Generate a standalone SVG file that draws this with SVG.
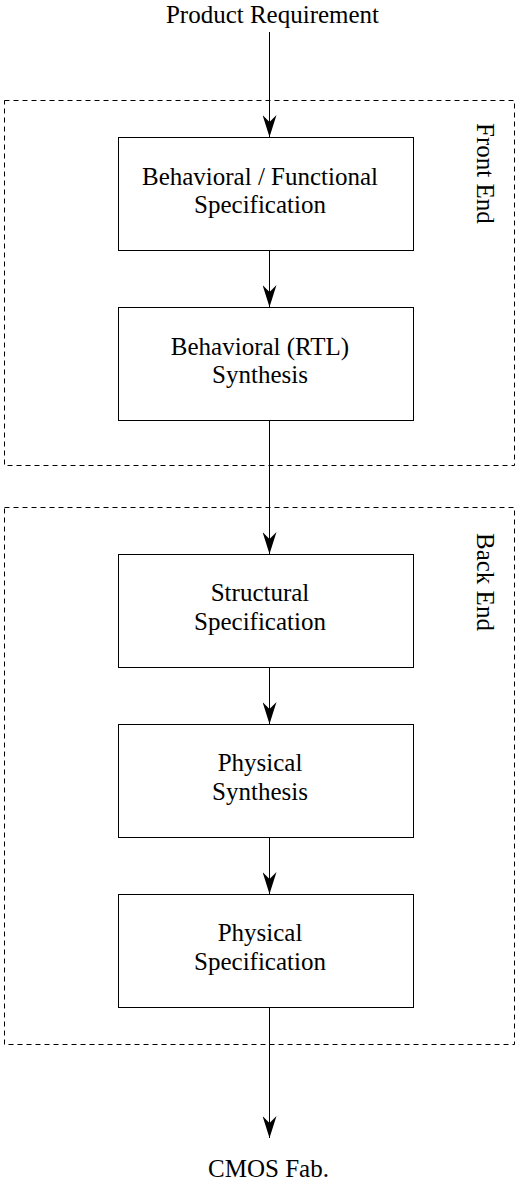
<svg xmlns="http://www.w3.org/2000/svg" width="517" height="1184" viewBox="0 0 517 1184">
<style>
text{font-family:"Liberation Serif","Times New Roman","DejaVu Serif",serif;font-size:25px;fill:#000}
.c{text-anchor:middle}
.box{fill:#fff;stroke:#000;stroke-width:1}
.grp{fill:none;stroke:#000;stroke-width:1;stroke-dasharray:5,4}
.edge{stroke:#000;stroke-width:1;fill:none;marker-end:url(#ah)}
</style>
<defs>
<marker id="ah" markerWidth="22" markerHeight="14" refX="22" refY="7" orient="auto" markerUnits="userSpaceOnUse" viewBox="0 0 22 14">
<path d="M0,0 L22,7 L0,14 L7,7 Z" fill="#000"/>
</marker>
</defs>
<g id="front-end">
<rect class="grp" x="4.5" y="100.5" width="510" height="365"/>
<text transform="translate(477,123) rotate(90)">Front End</text>
</g>
<g id="back-end">
<rect class="grp" x="4.5" y="507.5" width="510" height="537"/>
<text transform="translate(477,533) rotate(90)">Back End</text>
</g>
<g id="connectors">
<line x1="269.5" y1="32" x2="269.5" y2="137" class="edge"/>
<line x1="269.5" y1="250" x2="269.5" y2="307" class="edge"/>
<line x1="269.5" y1="420" x2="269.5" y2="554" class="edge"/>
<line x1="269.5" y1="667" x2="269.5" y2="724" class="edge"/>
<line x1="269.5" y1="837" x2="269.5" y2="894" class="edge"/>
<line x1="269.5" y1="1007" x2="269.5" y2="1138" class="edge"/>
</g>
<g id="product-requirement"><text class="c" x="272.5" y="23">Product Requirement</text></g>
<g id="n1"><rect class="box" x="118.5" y="137.5" width="295" height="113"/>
<text class="c" x="260" y="184.5">Behavioral / Functional</text><text class="c" x="260" y="212.5">Specification</text></g>
<g id="n2"><rect class="box" x="118.5" y="307.5" width="295" height="113"/>
<text class="c" x="260" y="354.5">Behavioral (RTL)</text><text class="c" x="260" y="382.5">Synthesis</text></g>
<g id="n3"><rect class="box" x="118.5" y="554.5" width="295" height="113"/>
<text class="c" x="260" y="601">Structural</text><text class="c" x="260" y="629.5">Specification</text></g>
<g id="n4"><rect class="box" x="118.5" y="724.5" width="295" height="113"/>
<text class="c" x="260" y="771">Physical</text><text class="c" x="260" y="799.5">Synthesis</text></g>
<g id="n5"><rect class="box" x="118.5" y="894.5" width="295" height="113"/>
<text class="c" x="260" y="941">Physical</text><text class="c" x="260" y="969.5">Specification</text></g>
<g id="cmos"><text class="c" x="268.5" y="1177">CMOS Fab.</text></g>
</svg>
